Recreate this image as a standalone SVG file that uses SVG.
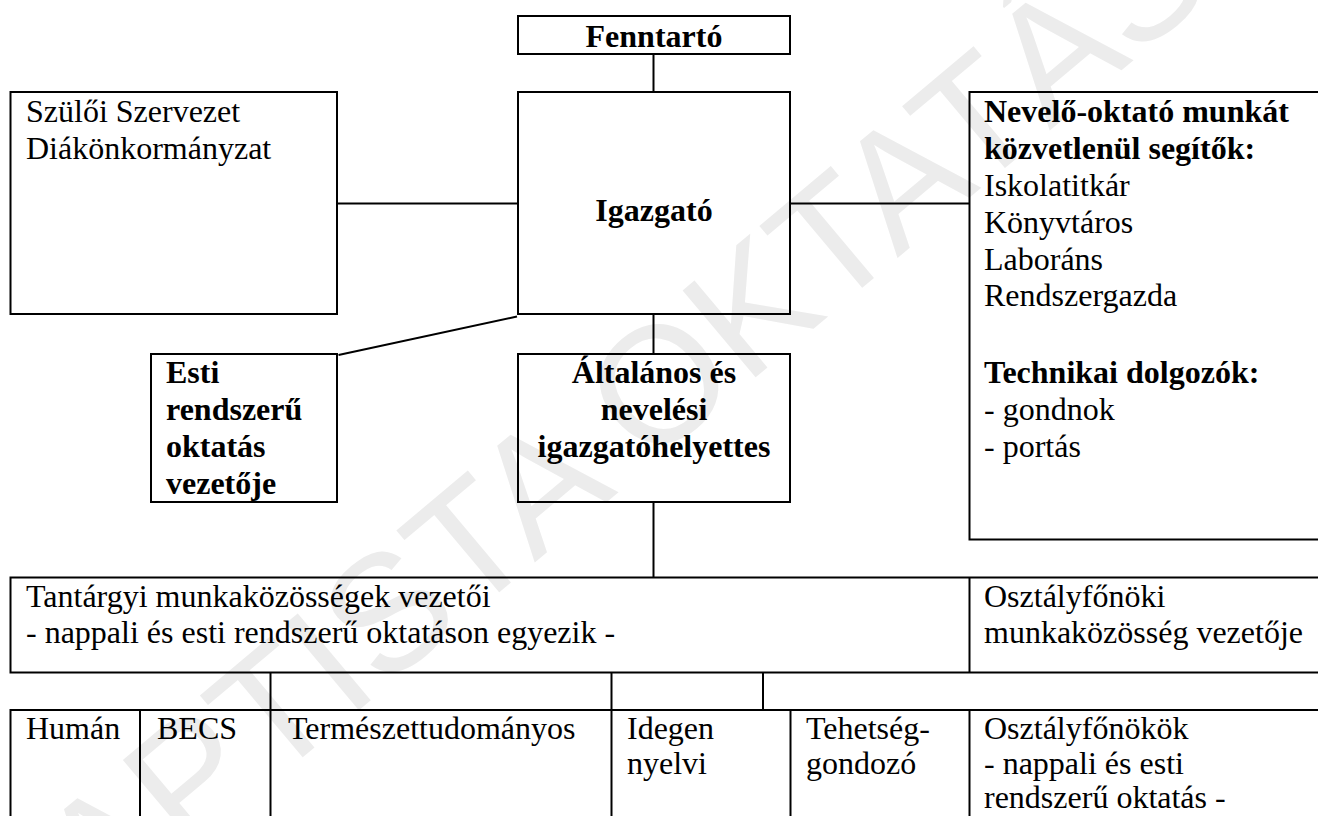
<svg xmlns="http://www.w3.org/2000/svg" width="1318" height="816" viewBox="0 0 1318 816">
<style>
.box{fill:none;stroke:#000;stroke-width:2}
.ln{stroke:#000;stroke-width:2;fill:none}
.t{font-family:"Liberation Serif","Times New Roman",serif;font-size:32px;fill:#000}
.b{font-weight:bold}
.c{text-anchor:middle}
.wm{font-family:"Liberation Sans",Arial,sans-serif;font-size:165px;fill:#ececec}
</style>
<rect width="1318" height="816" fill="#fff"/>
<g id="watermark">
<text class="wm" transform="translate(17,997) rotate(-40)">BAPTISTA OKTATÁS</text>
</g>
<g id="connectors">
<line class="ln" x1="653.5" y1="54" x2="653.5" y2="92"/>
<line class="ln" x1="337" y1="203.5" x2="518" y2="203.5"/>
<line class="ln" x1="790" y1="203.5" x2="969.5" y2="203.5"/>
<line class="ln" x1="517" y1="316.5" x2="338.5" y2="355"/>
<line class="ln" x1="653.5" y1="314" x2="653.5" y2="354"/>
<line class="ln" x1="653.5" y1="502" x2="653.5" y2="577.5"/>
<line class="ln" x1="270.5" y1="672.5" x2="270.5" y2="710"/>
<line class="ln" x1="611.5" y1="672.5" x2="611.5" y2="710"/>
<line class="ln" x1="763" y1="672.5" x2="763" y2="710"/>
</g>
<g id="fenntarto">
<rect class="box" x="518" y="16" width="272" height="38"/>
<text class="t b c" x="654" y="47">Fenntartó</text>
</g>
<g id="igazgato">
<rect class="box" x="518" y="92" width="272" height="222"/>
<text class="t b c" x="654" y="221">Igazgató</text>
</g>
<g id="szuloi">
<rect class="box" x="10.5" y="92" width="326.5" height="222"/>
<text class="t" x="26" y="122">Szülői Szervezet</text>
<text class="t" x="26" y="158.8">Diákönkormányzat</text>
</g>
<g id="segitok">
<rect class="box" x="969.5" y="92" width="360" height="447.5"/>
<text class="t b" x="984" y="122">Nevelő-oktató munkát</text>
<text class="t b" x="984" y="159">közvetlenül segítők:</text>
<text class="t" x="984" y="195.5">Iskolatitkár</text>
<text class="t" x="984" y="232.5">Könyvtáros</text>
<text class="t" x="984" y="269.5">Laboráns</text>
<text class="t" x="984" y="306">Rendszergazda</text>
<text class="t b" x="984" y="383">Technikai dolgozók:</text>
<text class="t" x="984" y="420">- gondnok</text>
<text class="t" x="984" y="457">- portás</text>
</g>
<g id="esti">
<rect class="box" x="151" y="354" width="186" height="148"/>
<text class="t b" x="166" y="383">Esti</text>
<text class="t b" x="166" y="420">rendszerű</text>
<text class="t b" x="166" y="457">oktatás</text>
<text class="t b" x="166" y="493.5">vezetője</text>
</g>
<g id="altalanos">
<rect class="box" x="518" y="354" width="272" height="148"/>
<text class="t b c" x="654" y="383">Általános és</text>
<text class="t b c" x="654" y="420">nevelési</text>
<text class="t b c" x="654" y="457">igazgatóhelyettes</text>
</g>
<g id="tantargyi">
<rect class="box" x="10.5" y="577.5" width="1320" height="95"/>
<text class="t" x="26" y="606.5">Tantárgyi munkaközösségek vezetői</text>
<text class="t" x="26" y="643.3">- nappali és esti rendszerű oktatáson egyezik -</text>
</g>
<g id="osztalyfonoki">
<line class="ln" x1="969.5" y1="577.5" x2="969.5" y2="672.5"/>
<text class="t" x="984" y="606.5">Osztályfőnöki</text>
<text class="t" x="984" y="643.3">munkaközösség vezetője</text>
</g>
<g id="munkakozossegek">
<rect class="box" x="10.5" y="710" width="1320" height="130"/>
<line class="ln" x1="140" y1="710" x2="140" y2="816"/>
<line class="ln" x1="270.5" y1="710" x2="270.5" y2="816"/>
<line class="ln" x1="611.5" y1="710" x2="611.5" y2="816"/>
<line class="ln" x1="790.5" y1="710" x2="790.5" y2="816"/>
<line class="ln" x1="969.5" y1="710" x2="969.5" y2="816"/>
<text class="t" x="26" y="739">Humán</text>
<text class="t" x="157" y="739">BECS</text>
<text class="t" x="288" y="739">Természettudományos</text>
<text class="t" x="627" y="739">Idegen</text>
<text class="t" x="627" y="773.5">nyelvi</text>
<text class="t" x="806" y="739">Tehetség-</text>
<text class="t" x="806" y="773.5">gondozó</text>
<text class="t" x="984" y="739">Osztályfőnökök</text>
<text class="t" x="984" y="773.5">- nappali és esti</text>
<text class="t" x="984" y="808">rendszerű oktatás -</text>
</g>
</svg>
